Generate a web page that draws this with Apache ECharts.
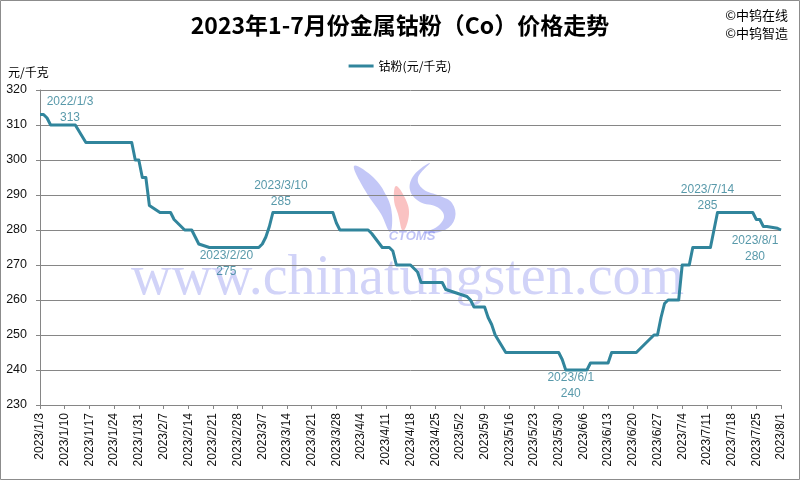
<!DOCTYPE html>
<html>
<head>
<meta charset="utf-8">
<script src="https://cdn.jsdelivr.net/npm/echarts@6/dist/echarts.min.js"></script>
<style>
html,body{margin:0;padding:0;background:#fff;}
#chart{width:800px;height:480px;}
</style>
</head>
<body>
<div id="chart"></div>
<script>
// ---- data ----
const dates = [
  '2023/1/3','2023/1/4','2023/1/5','2023/1/6','2023/1/13','2023/1/16',
  '2023/1/29','2023/1/30','2023/1/31','2023/2/1','2023/2/2','2023/2/3',
  '2023/2/6','2023/2/9','2023/2/10','2023/2/13','2023/2/15','2023/2/16',
  '2023/2/17','2023/2/20','2023/3/6','2023/3/7','2023/3/8','2023/3/9',
  '2023/3/10','2023/3/27','2023/3/28','2023/3/29','2023/4/6','2023/4/7',
  '2023/4/10','2023/4/12','2023/4/13','2023/4/14','2023/4/18','2023/4/19',
  '2023/4/20','2023/4/21','2023/4/27','2023/4/28','2023/5/4','2023/5/5',
  '2023/5/6','2023/5/9','2023/5/10','2023/5/11','2023/5/12','2023/5/15',
  '2023/5/30','2023/5/31','2023/6/1','2023/6/7','2023/6/8','2023/6/13',
  '2023/6/14','2023/6/21','2023/6/25','2023/6/26','2023/6/27','2023/6/28',
  '2023/6/29','2023/6/30','2023/7/3','2023/7/4','2023/7/6','2023/7/7',
  '2023/7/12','2023/7/13','2023/7/14','2023/7/24','2023/7/25','2023/7/26',
  '2023/7/27','2023/7/28','2023/7/31','2023/8/1'
];
const prices = [
  313,313,312,310,310,305,
  305,300,300,295,295,287,
  285,285,283,280,280,278,
  276,275,275,276,278,281,
  285,285,282,280,280,279,
  275,275,274,270,270,269,
  268,265,265,263,261,260,
  258,258,255,253,250,245,
  245,243,240,240,242,242,
  245,245,249,250,250,255,
  259,260,260,270,270,275,
  275,280,285,285,283,283,
  281,281,280.5,280
];
const annDates  = ['2023/1/3','2023/2/20','2023/3/10','2023/6/1','2023/7/14','2023/8/1'];
const annTitles = ['2022/1/3','2023/2/20','2023/3/10','2023/6/1','2023/7/14','2023/8/1'];
const yTicks = [230,240,250,260,270,280,290,300,310,320];
const startDate = '2023/1/3';
const endDate = '2023/8/1';
const seriesName = '钴粉(元/千克)';

// ---- helpers ----
function toUTC(s){const p=s.split('/').map(Number);return Date.UTC(p[0],p[1]-1,p[2]);}
const DAY = 86400000;
const base = toUTC(startDate);
function dayIdx(s){return Math.round((toUTC(s)-base)/DAY);}
function fmtDay(v){const d=new Date(base+v*DAY);return d.getUTCFullYear()+'/'+(d.getUTCMonth()+1)+'/'+d.getUTCDate();}

const lineData = dates.map((d,i)=>[dayIdx(d),prices[i]]);
const annOffsets = [[30,-5],[17,16.5],[8,-19],[5,15.5],[-10,-15],[-26,18.7]];
const annData = annDates.map((d,i)=>{
  const v = prices[dates.indexOf(d)];
  return {value:[dayIdx(d),v], name:annTitles[i],
    label:{offset:annOffsets[i]}};
});

const TEAL = '#2E7F95';
const FONT = '"Liberation Sans","Noto Sans CJK SC",sans-serif';
const CJK = '"Noto Sans CJK SC","Liberation Sans",sans-serif';
const LOGO_BLUE = 'rgba(105,115,235,0.4)';

const chart = echarts.init(document.getElementById('chart'),null,{renderer:'canvas'});
chart.setOption({
  animation:false,
  backgroundColor:'#fff',
  title:{
    text:'2023年1-7月份金属钴粉（Co）价格走势',
    left:'center', top:9,
    textStyle:{fontSize:23,fontWeight:'bold',color:'#000',fontFamily:CJK}
  },
  legend:{
    top:55, left:'center',
    icon:'rect', itemWidth:25, itemHeight:3, itemGap:10,
    textStyle:{fontSize:12,color:'#000',fontFamily:CJK},
    data:[seriesName]
  },
  grid:{left:40,right:19,top:90,bottom:75,containLabel:false},
  xAxis:{
    type:'value', min:dayIdx(startDate), max:dayIdx(endDate), interval:7,
    axisLine:{show:true,lineStyle:{color:'#868686',width:1}},
    axisTick:{show:true,length:4,lineStyle:{color:'#868686'}},
    splitLine:{show:false},
    axisLabel:{rotate:90,margin:8,fontSize:12,color:'#111',fontFamily:FONT,
      formatter:v=>fmtDay(v),showMinLabel:true,showMaxLabel:true}
  },
  yAxis:{
    type:'value', min:yTicks[0], max:yTicks[yTicks.length-1], interval:10,
    axisLine:{show:true,lineStyle:{color:'#868686',width:1}},
    axisTick:{show:true,length:4,lineStyle:{color:'#868686'}},
    splitLine:{show:true,lineStyle:{color:'#868686',width:1}},
    axisLabel:{margin:13,fontSize:12.5,color:'#111',fontFamily:FONT}
  },
  graphic:[
    {type:'rect',z:100,silent:true,shape:{x:0.5,y:0.5,width:799,height:479},
     style:{fill:'none',stroke:'#8c8c8c',lineWidth:1}},
    {type:'text',x:8,y:66,silent:true,
     style:{text:'元/千克',fontSize:12,fill:'#000',fontFamily:CJK}},
    {type:'text',x:788,y:9,silent:true,
     style:{text:'©中钨在线',fontSize:13,fill:'#000',fontFamily:CJK,align:'right'}},
    {type:'text',x:788,y:27,silent:true,
     style:{text:'©中钨智造',fontSize:13,fill:'#000',fontFamily:CJK,align:'right'}},
    {type:'text',z:0,silent:true,x:131,y:251,
     style:{text:'www.chinatungsten.com',fontSize:56,fontFamily:'"Liberation Serif","DejaVu Serif",serif',
       fill:'rgba(115,120,235,0.33)'}},
    {type:'polygon',z:0,silent:true,
     shape:{points:[[354,166],[373,177],[387,197],[392,215],[390,232],[381,214],[366,192]],smooth:0.4},
     style:{fill:LOGO_BLUE}},
    {type:'polygon',z:0,silent:true,
     shape:{points:[[396,186],[405,198],[409,214],[403,231],[398,214],[394,200]],smooth:0.4},
     style:{fill:'rgba(245,120,120,0.45)'}},
    {type:'polygon',z:0,silent:true,
     shape:{points:[[430,163],[414,175],[410,190],[420,202],[437,207],[444,216],[438,226],[424,233],
       [445,230],[455,218],[452,203],[440,196],[423,189],[418,178]],smooth:0.4},
     style:{fill:LOGO_BLUE}},
    {type:'text',z:0,silent:true,x:412,y:236,
     style:{text:'CTOMS',fontSize:13,fontStyle:'italic',fontWeight:'bold',
       fill:'rgba(110,120,235,0.45)',align:'center',verticalAlign:'middle',fontFamily:FONT}}
  ],
  series:[
    {
      name:seriesName, type:'line', data:lineData, z:5,
      showSymbol:false, symbol:'none', smooth:false,
      lineStyle:{color:'#31859C',width:3,join:'round'},
      itemStyle:{color:'#31859C'}
    },
    {
      type:'scatter', data:annData, z:6, silent:true,
      symbol:'circle', symbolSize:1, itemStyle:{color:'rgba(0,0,0,0)'},
      label:{show:true,position:'inside',align:'center',verticalAlign:'middle',
        fontSize:12,lineHeight:16,color:TEAL,fontFamily:FONT,
        formatter:p=>p.name+'\n'+p.value[1]}
    }
  ]
});
</script>
</body>
</html>
